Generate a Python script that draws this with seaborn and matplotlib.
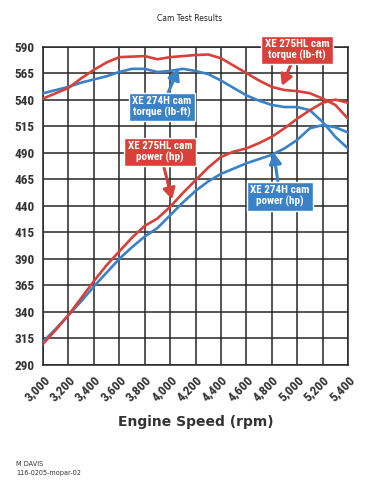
import pandas as pd
import seaborn as sns
import matplotlib.pyplot as plt
from matplotlib import font_manager

rpm = list(range(3000, 5401, 100))

hl_torque = [541, 546, 551, 560, 568, 575, 580, 580.5, 581, 578, 580, 581, 582,
             582.5, 579, 572, 565, 558, 552, 549, 548, 546, 541, 535, 522]
hl_power = [310, 323, 337, 353, 369, 384, 397, 410, 421, 428, 439, 452, 464,
            476, 486, 491, 494, 499, 505, 513, 522, 530, 537, 540, 537]
h_torque = [546, 549, 552, 556, 559, 562, 566, 569, 569, 566, 567, 569, 567,
            564, 558, 551, 544, 539, 535, 533, 533, 530, 519, 505, 494]
h_power = [312, 324, 337, 350, 364, 377, 390, 401, 411, 419, 431, 443, 454,
           463, 470, 475, 480, 484, 488, 494, 502, 513, 516, 514, 509]

y_ticks = list(range(290, 591, 25))
x_ticks = list(range(3000, 5401, 200))
x_labels = [f"{v:,}" for v in x_ticks]

red = "#d8403a"
blue = "#3a82c8"
dark = "#262626"

# pick a narrow heavy face if one is installed
names = {f.name for f in font_manager.fontManager.ttflist}
bold_font = "DejaVu Sans"
for cand in ["Roboto Condensed", "Liberation Sans Narrow", "Open Sans Condensed",
             "Roboto"]:
    if cand in names:
        bold_font = cand
        break

sns.set_style("white")
plt.rcParams["font.family"] = ["DejaVu Sans"]

fig = plt.figure(figsize=(3.71, 4.95), dpi=100)
ax = fig.add_axes([0.116, 0.2626, 0.822, 0.6434])

df = pd.DataFrame({"rpm": rpm, "hl_t": hl_torque, "hl_p": hl_power,
                   "h_t": h_torque, "h_p": h_power})
for col, c in [("h_t", blue), ("h_p", blue), ("hl_t", red), ("hl_p", red)]:
    sns.lineplot(data=df, x="rpm", y=col, color=c, lw=1.9, ax=ax, zorder=3)

ax.set_xlim(3000, 5400)
ax.set_ylim(290, 590)
ax.set_xticks(x_ticks)
ax.set_xticklabels(x_labels, rotation=45, ha="right", rotation_mode="anchor",
                   fontsize=9.5, fontweight="heavy", color="#333333",
                   family=bold_font)
ax.set_yticks(y_ticks)
ax.set_yticklabels([str(v) for v in y_ticks], fontsize=9.5, fontweight="heavy",
                   color="#333333", family=bold_font)
ax.grid(True, color=dark, lw=1.1)
ax.tick_params(axis="both", length=4, width=1.1, color=dark, pad=2)
for s in ax.spines.values():
    s.set_color(dark)
    s.set_linewidth(1.1)
ax.set_xlabel("Engine Speed (rpm)", fontsize=10, fontweight="heavy",
              color="#333333", labelpad=8)
ax.set_ylabel("")

fig.text(0.51, 0.962, "Cam Test Results", ha="center", va="center",
         fontsize=5.5, color="#222222")
fig.text(0.043, 0.054, "M DAVIS\n116-0205-mopar-02", ha="left", va="center",
         fontsize=4.7, color="#333333", linespacing=1.5)

notes = [
    ("XE 275HL cam\ntorque (lb-ft)", (4999, 587), (4880, 553), red),
    ("XE 274H cam\ntorque (lb-ft)", (3936, 533), (4065, 569), blue),
    ("XE 275HL cam\npower (hp)", (3921, 491), (4015, 446), red),
    ("XE 274H cam\npower (hp)", (4865, 449), (4815, 490), blue),
]
for txt, xy_text, xy, c in notes:
    ax.annotate(txt, xy=xy, xytext=xy_text, ha="center", va="center",
                fontsize=8, fontweight="bold", color="white", linespacing=1.1,
                family=bold_font,
                bbox=dict(boxstyle="square,pad=0.3", fc=c, ec="white", lw=1),
                arrowprops=dict(arrowstyle="-|>,head_length=0.8,head_width=0.45",
                                color=c, lw=2.2, shrinkA=0, shrinkB=0),
                zorder=5)

fig.savefig("out.png", dpi=100)
